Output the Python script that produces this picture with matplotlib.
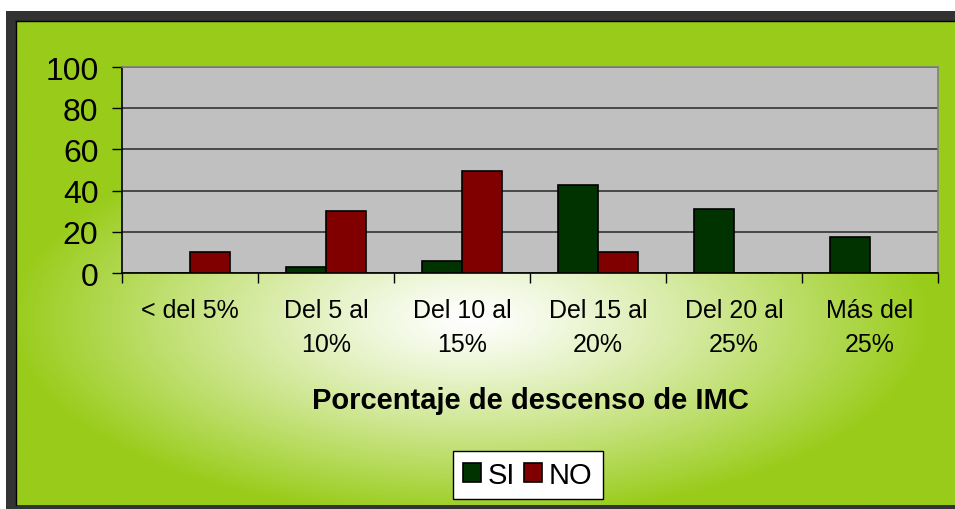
import numpy as np
import matplotlib
matplotlib.use("Agg")
import matplotlib.pyplot as plt
from matplotlib.patches import Rectangle

plt.rcParams['font.family'] = ['Liberation Sans', 'DejaVu Sans']

categories = ["< del 5%", "Del 5 al\n10%", "Del 10 al\n15%", "Del 15 al\n20%", "Del 20 al\n25%", "Más del\n25%"]
si_values = [0, 3, 6, 42.5, 31, 17.5]
no_values = [10, 30, 49.5, 10, 0, 0]
yticks = [0, 20, 40, 60, 80, 100]
xlabel = "Porcentaje de descenso de IMC"
series_names = ["SI", "NO"]

W, H = 955, 510
fig = plt.figure(figsize=(W / 100, H / 100), dpi=100)

# background canvas in pixel coordinates
bg = fig.add_axes([0, 0, 1, 1])
bg.set_xlim(0, W)
bg.set_ylim(H, 0)
bg.axis('off')
bg.add_patch(Rectangle((6, 12), W - 6, H - 12, facecolor='#333333', edgecolor='none'))
gx0, gx1, gy0, gy1 = 16, W, 22, 506
xs = np.linspace(gx0, gx1, 400)
ys = np.linspace(gy0, gy1, 220)
X, Y = np.meshgrid(xs, ys)
cx, cy = 470, 320
t = np.sqrt(((X - cx) / 460) ** 2 + ((Y - cy) / 200) ** 2)
t = np.clip(t, 0, 1) ** 1.2
green = np.array([153, 204, 26]) / 255.0
white = np.array([1.0, 1.0, 1.0])
img = white[None, None, :] * (1 - t[..., None]) + green[None, None, :] * t[..., None]
bg.imshow(img, extent=(gx0, gx1, gy1, gy0), aspect='auto', interpolation='bilinear', zorder=1)
bg.plot([gx0, gx1], [gy0, gy0], color='black', lw=1, zorder=2)
bg.plot([gx0, gx0], [gy0, gy1], color='black', lw=1, zorder=2)

# plot area
left, right, top, bottom = 122, 938, 68, 274
ax = fig.add_axes([left / W, 1 - bottom / H, (right - left) / W, (bottom - top) / H])
ax.set_facecolor('#C0C0C0')
n = len(categories)
x = np.arange(n)
bw = 0.295
ax.bar(x - bw / 2, si_values, width=bw, color='#003300', edgecolor='black', linewidth=1.2, zorder=3, label=series_names[0])
ax.bar(x + bw / 2, no_values, width=bw, color='#800000', edgecolor='black', linewidth=1.2, zorder=3, label=series_names[1])
ax.set_xlim(-0.5, n - 0.5)
ax.set_ylim(0, 100)
ax.set_yticks(yticks)
ax.yaxis.grid(True, color='#333333', linewidth=1.2, zorder=1)
ax.set_axisbelow(True)
ax.tick_params(axis='y', direction='out', length=7, width=1, labelsize=23, pad=10, colors='black')
ax.set_xticks(x)
ax.set_xticklabels(categories, fontsize=18, linespacing=1.55, va='top')
ax.tick_params(axis='x', which='major', length=0, pad=18)
ax.set_xticks(np.arange(-0.5, n, 1.0), minor=True)
ax.tick_params(axis='x', which='minor', direction='out', length=7, width=1, color='black')
for s in ['top', 'right']:
    ax.spines[s].set_color('#808080')
    ax.spines[s].set_linewidth(1.2)
for s in ['left', 'bottom']:
    ax.spines[s].set_color('black')
    ax.spines[s].set_linewidth(1.2)

fig.text(530 / W, 1 - 401 / H, xlabel, ha='center', va='center', fontsize=21, fontweight='bold')

leg = fig.legend(loc='center', bbox_to_anchor=(528 / W, 1 - 476 / H), ncol=2, fontsize=21,
                 frameon=True, fancybox=False, edgecolor='black', framealpha=1,
                 handlelength=0.6, handleheight=0.6, handletextpad=0.25, columnspacing=0.3,
                 borderpad=0.35)
leg.get_frame().set_linewidth(1)

fig.savefig('out.png', dpi=100)
